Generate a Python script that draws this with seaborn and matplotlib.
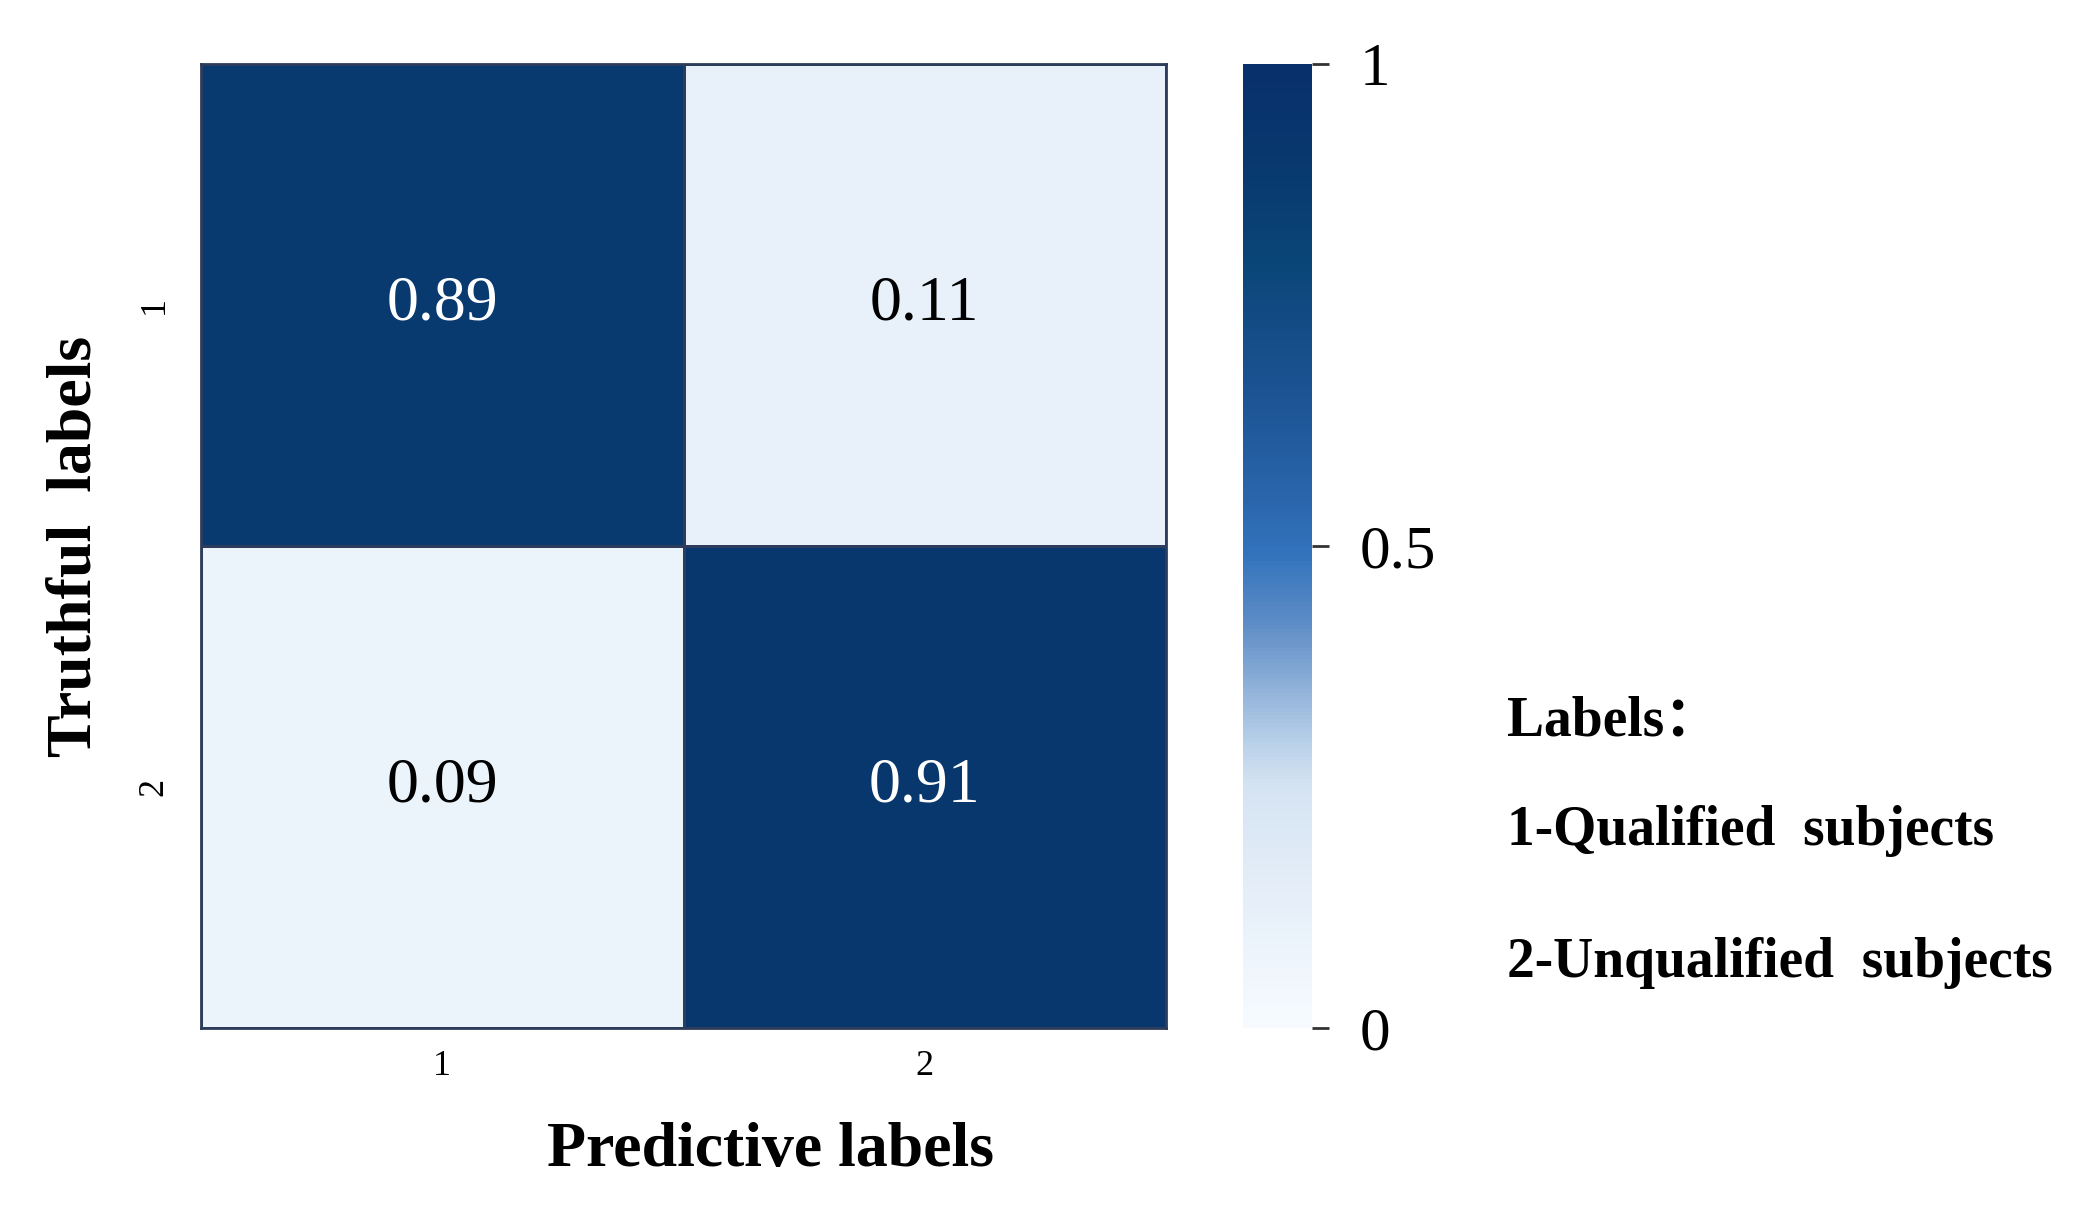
import numpy as np
import pandas as pd
import seaborn as sns
import matplotlib.pyplot as plt
from matplotlib.colors import LinearSegmentedColormap

# confusion matrix values (rows: truthful, cols: predictive)
row_labels = ["1", "2"]
col_labels = ["1", "2"]
cm_values = [[0.89, 0.11],
             [0.09, 0.91]]
cbar_ticks = [0, 0.5, 1]
cbar_ticklabels = ["0", "0.5", "1"]
legend_lines = ["Labels\uff1a", "1-Qualified  subjects", "2-Unqualified  subjects"]

# colour ramp sampled from the reference colour bar
ramp = [(0.0, "#f7fbff"), (0.15, "#e3edf8"), (0.25, "#d5e3f2"), (0.29, "#bcd3ea"),
        (0.36, "#8aadd7"), (0.42, "#5d8cc6"), (0.49, "#3373bd"), (0.55, "#2a65ab"),
        (0.67, "#1a5291"), (0.80, "#0a4577"), (0.90, "#08386e"), (1.0, "#08306b")]
cmap = LinearSegmentedColormap.from_list("ref_blues", ramp)

sns.set_theme(style="white")
plt.rcParams["font.family"] = ["Liberation Serif", "Noto Sans CJK SC", "DejaVu Sans"]
plt.rcParams["text.color"] = "black"
plt.rcParams["axes.labelcolor"] = "black"
plt.rcParams["xtick.color"] = "black"
plt.rcParams["ytick.color"] = "black"

W, H = 2078, 1209
fig = plt.figure(figsize=(W / 100, H / 100), dpi=100)
ax = fig.add_axes([201 / W, 1 - 1028 / H, 965 / W, 964 / H])
cax = fig.add_axes([1243 / W, 1 - 1028 / H, 69 / W, 964 / H])

df = pd.DataFrame(cm_values, index=row_labels, columns=col_labels)
sns.heatmap(df, ax=ax, cbar_ax=cax, cmap=cmap, vmin=0, vmax=1,
            annot=True, fmt=".2f", annot_kws={"fontsize": 46},
            linewidths=2, linecolor="#2e3c5c",
            cbar_kws={"ticks": cbar_ticks})

# light cells get pure black numbers
for t in ax.texts:
    if float(t.get_text()) < 0.5:
        t.set_color("black")

for side in ["top", "bottom", "left", "right"]:
    ax.spines[side].set_visible(True)
    ax.spines[side].set_color("#2e3c5c")
    ax.spines[side].set_linewidth(2)

ax.tick_params(axis="both", length=0)
ax.tick_params(axis="x", pad=16, labelsize=26)
ax.tick_params(axis="y", pad=22, labelsize=26)
ax.set_yticklabels(row_labels, rotation=90, va="center")
ax.set_xticklabels(col_labels, rotation=0)

ax.set_xlabel("Predictive labels", fontsize=46, fontweight="bold")
ax.xaxis.set_label_coords(0.59, -0.098)
ax.set_ylabel("Truthful  labels", fontsize=46, fontweight="bold", labelpad=24)

cbar = ax.collections[0].colorbar
cbar.outline.set_visible(False)
cbar.set_ticks(cbar_ticks)
cbar.set_ticklabels(cbar_ticklabels)
cax.tick_params(length=12, width=2, color="#333333", labelcolor="black",
                labelsize=44, pad=22)

ys = [722, 831, 963]
for txt, y in zip(legend_lines, ys):
    fig.text(1507 / W, 1 - y / H, txt, fontsize=40, fontweight="bold",
             va="center", ha="left", color="black")

fig.savefig("out.png", dpi=100)
